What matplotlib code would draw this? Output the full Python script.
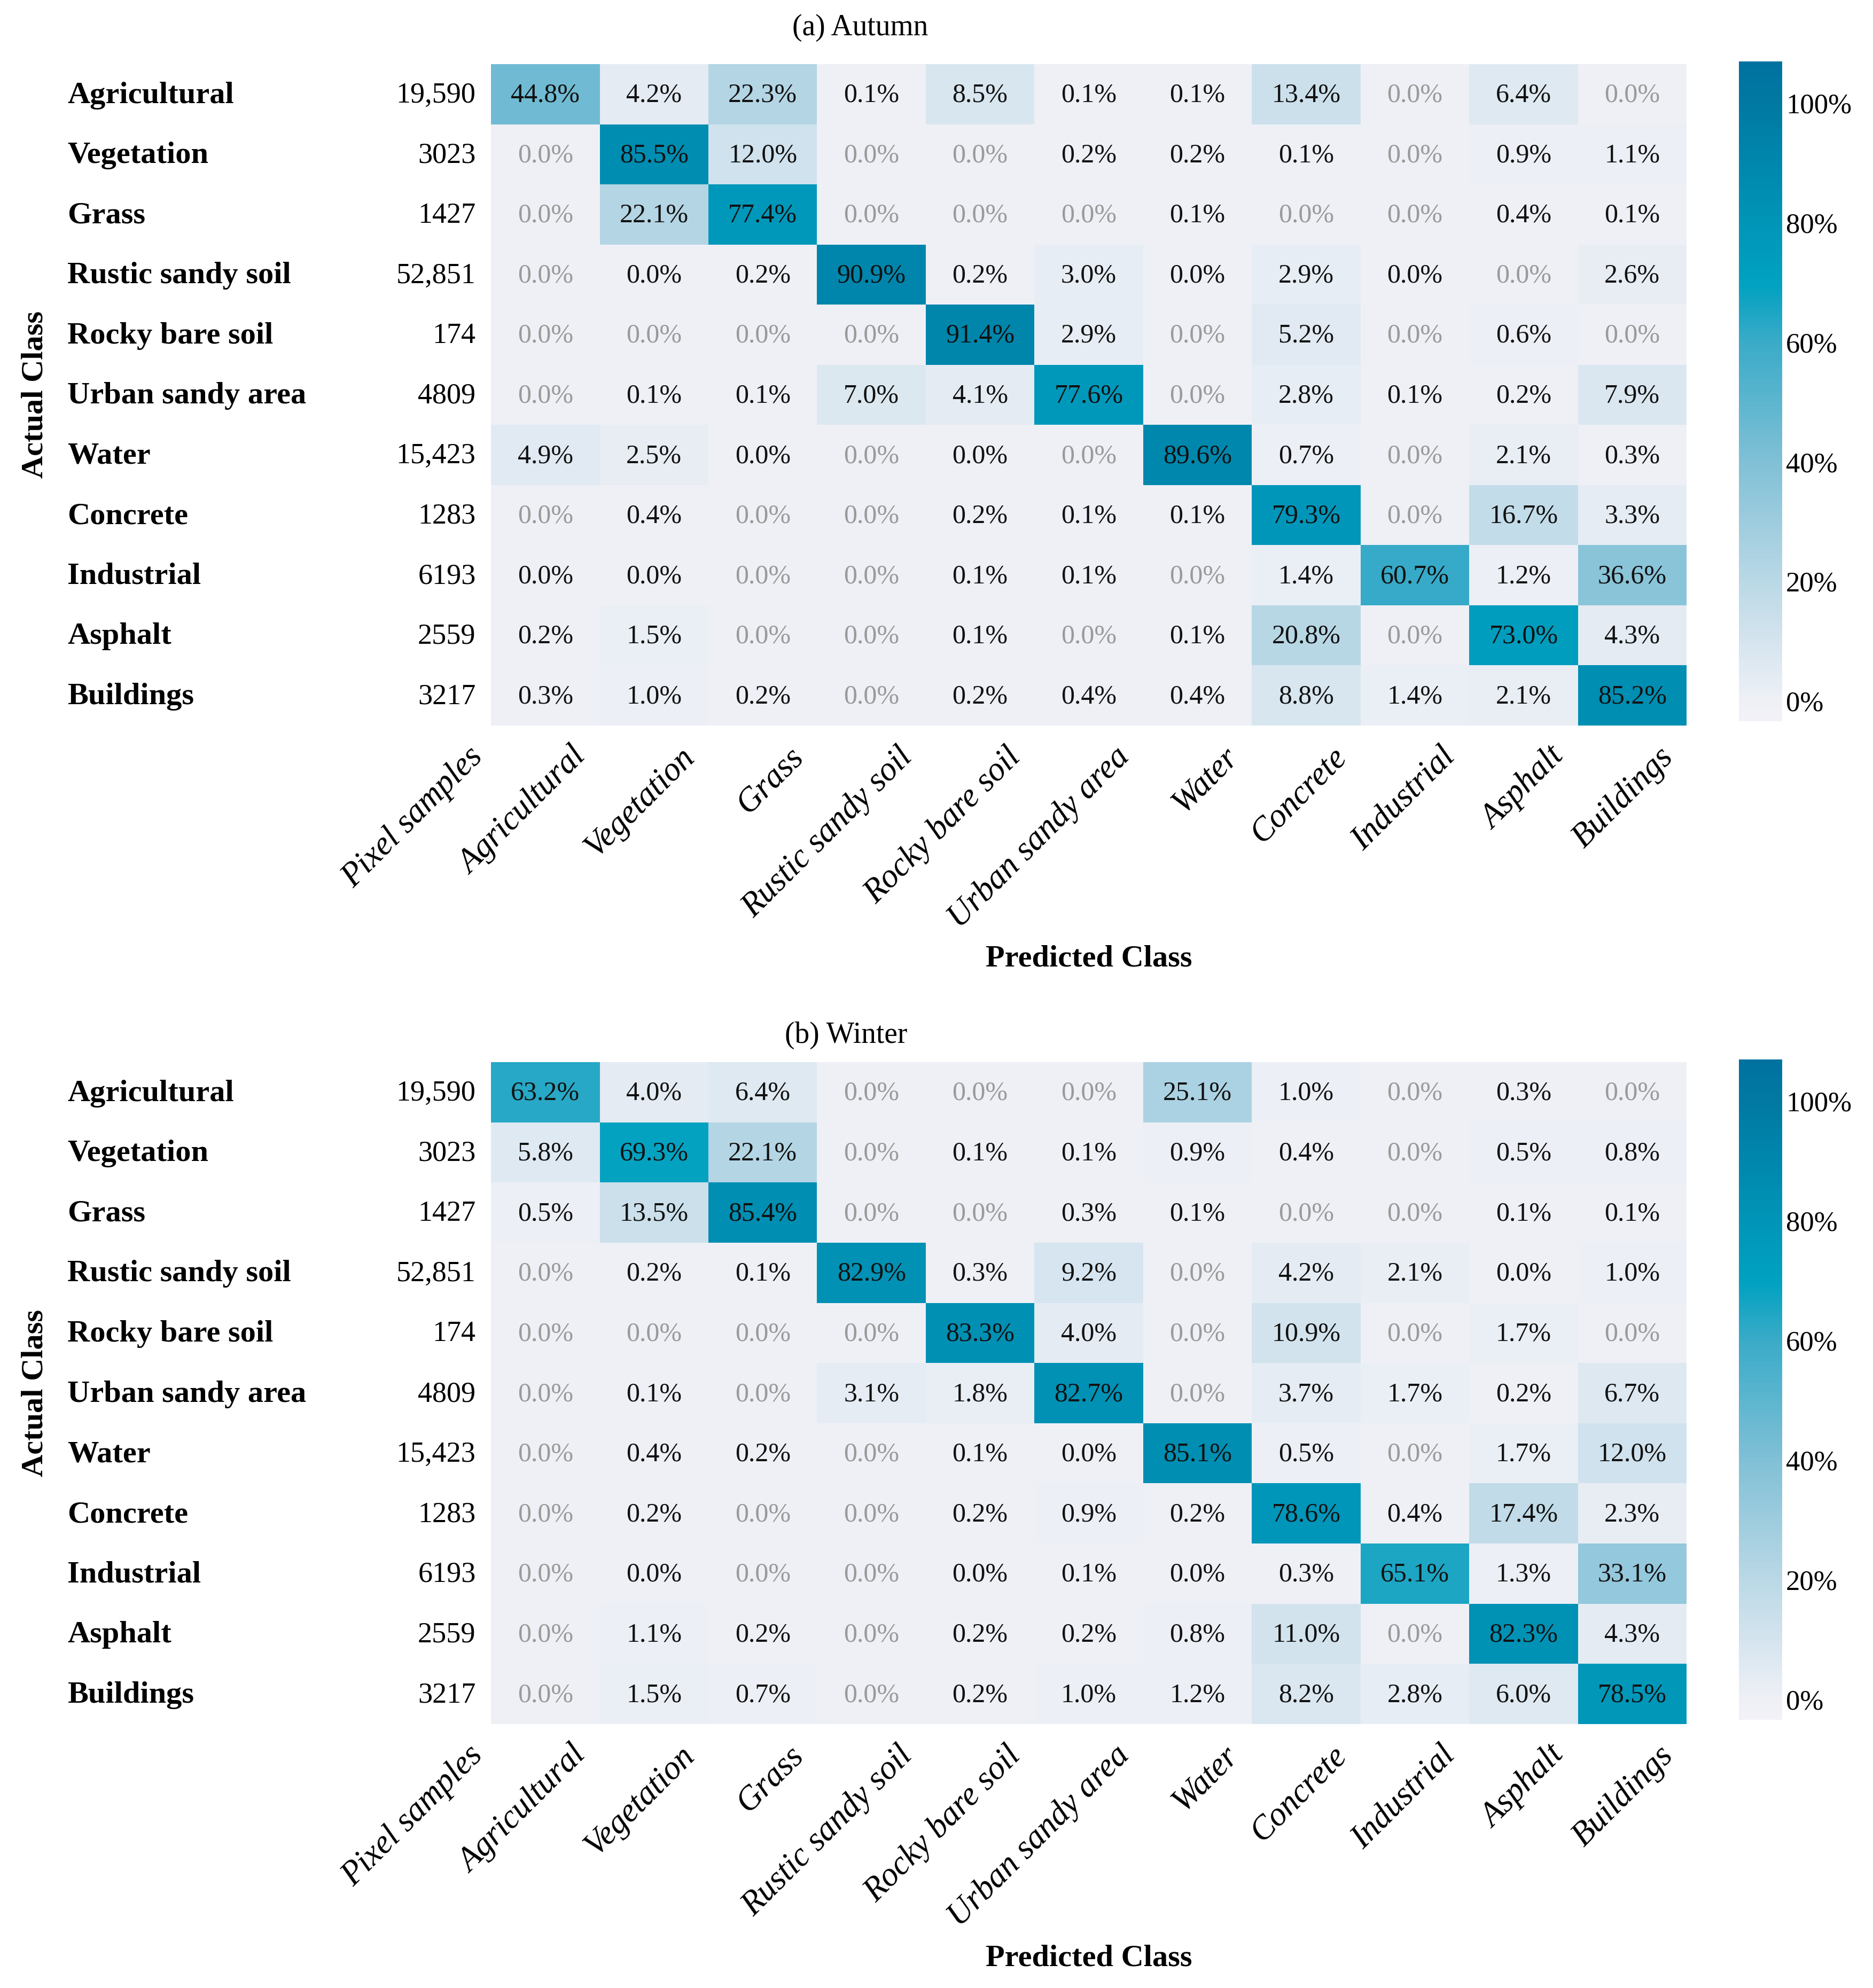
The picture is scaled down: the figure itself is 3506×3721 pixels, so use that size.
import numpy as np
import matplotlib
matplotlib.use('Agg')
import matplotlib.pyplot as plt
from matplotlib.colors import LinearSegmentedColormap, Normalize
from matplotlib import transforms

plt.rcParams['font.family'] = ['Liberation Serif', 'DejaVu Serif']

# classes (rows = actual, columns = predicted)
classes = ['Agricultural', 'Vegetation', 'Grass', 'Rustic sandy soil', 'Rocky bare soil',
           'Urban sandy area', 'Water', 'Concrete', 'Industrial', 'Asphalt', 'Buildings']
pixel_samples = [19590, 3023, 1427, 52851, 174, 4809, 15423, 1283, 6193, 2559, 3217]

# percentages; 0.01 means "rounds to 0.0% but not exactly zero" (printed in black)
autumn = [
    [44.8, 4.2, 22.3, 0.1, 8.5, 0.1, 0.1, 13.4, 0.0, 6.4, 0.0],
    [0.0, 85.5, 12.0, 0.0, 0.0, 0.2, 0.2, 0.1, 0.0, 0.9, 1.1],
    [0.0, 22.1, 77.4, 0.0, 0.0, 0.0, 0.1, 0.0, 0.0, 0.4, 0.1],
    [0.0, 0.01, 0.2, 90.9, 0.2, 3.0, 0.01, 2.9, 0.01, 0.0, 2.6],
    [0.0, 0.0, 0.0, 0.0, 91.4, 2.9, 0.0, 5.2, 0.0, 0.6, 0.0],
    [0.0, 0.1, 0.1, 7.0, 4.1, 77.6, 0.0, 2.8, 0.1, 0.2, 7.9],
    [4.9, 2.5, 0.01, 0.0, 0.01, 0.0, 89.6, 0.7, 0.0, 2.1, 0.3],
    [0.0, 0.4, 0.0, 0.0, 0.2, 0.1, 0.1, 79.3, 0.0, 16.7, 3.3],
    [0.01, 0.01, 0.0, 0.0, 0.1, 0.1, 0.0, 1.4, 60.7, 1.2, 36.6],
    [0.2, 1.5, 0.0, 0.0, 0.1, 0.0, 0.1, 20.8, 0.0, 73.0, 4.3],
    [0.3, 1.0, 0.2, 0.0, 0.2, 0.4, 0.4, 8.8, 1.4, 2.1, 85.2],
]
winter = [
    [63.2, 4.0, 6.4, 0.0, 0.0, 0.0, 25.1, 1.0, 0.0, 0.3, 0.0],
    [5.8, 69.3, 22.1, 0.0, 0.1, 0.1, 0.9, 0.4, 0.0, 0.5, 0.8],
    [0.5, 13.5, 85.4, 0.0, 0.0, 0.3, 0.1, 0.0, 0.0, 0.1, 0.1],
    [0.0, 0.2, 0.1, 82.9, 0.3, 9.2, 0.0, 4.2, 2.1, 0.01, 1.0],
    [0.0, 0.0, 0.0, 0.0, 83.3, 4.0, 0.0, 10.9, 0.0, 1.7, 0.0],
    [0.0, 0.1, 0.0, 3.1, 1.8, 82.7, 0.0, 3.7, 1.7, 0.2, 6.7],
    [0.0, 0.4, 0.2, 0.0, 0.1, 0.01, 85.1, 0.5, 0.0, 1.7, 12.0],
    [0.0, 0.2, 0.0, 0.0, 0.2, 0.9, 0.2, 78.6, 0.4, 17.4, 2.3],
    [0.0, 0.01, 0.0, 0.0, 0.01, 0.1, 0.01, 0.3, 65.1, 1.3, 33.1],
    [0.0, 1.1, 0.2, 0.0, 0.2, 0.2, 0.8, 11.0, 0.0, 82.3, 4.3],
    [0.0, 1.5, 0.7, 0.0, 0.2, 1.0, 1.2, 8.2, 2.8, 6.0, 78.5],
]
titles = ['(a) Autumn', '(b) Winter']
cbar_ticks = [0, 20, 40, 60, 80, 100]

# colour scale
vmin, vmax = -3.4, 107
norm = Normalize(vmin, vmax)
stops = [(-3.4, '#f3f1f8'), (0, '#eef0f6'), (20, '#bad8e6'), (40, '#80c0d6'),
         (60, '#3aabc8'), (70, '#00a1c1'), (80, '#0095b8'), (100, '#0079a2'), (107, '#0072a0')]
cmap = LinearSegmentedColormap.from_list('cm', [(float(norm(v)), c) for v, c in stops])

W, H = 3506, 3721
fig = plt.figure(figsize=(W / 100, H / 100), dpi=100)

def fx(px):
    return px / W

def fy(px):
    return 1 - px / H

panels = [(autumn, 120, 1358, 115, 1350, 1610, 52, 1794),
          (winter, 1988, 3227, 1983, 3219, 1584, 1938, 3665)]

xmin = -0.9
for k, (data, top, bot, ctop, cbot, tx, ty, ly) in enumerate(panels):
    data = np.array(data)
    ax = fig.add_axes([fx(736), fy(bot), fx(3157) - fx(736), fy(top) - fy(bot)])
    mesh = ax.pcolormesh(np.arange(12), np.arange(12), data, cmap=cmap, norm=norm)
    ax.set_xlim(xmin, 11)
    ax.set_ylim(11, 0)
    for s in ax.spines.values():
        s.set_visible(False)
    ax.set_yticks([])

    # cell values
    for i in range(11):
        for j in range(11):
            v = data[i, j]
            ax.text(j + 0.5, i + 0.52, f'{v:.1f}%', ha='center', va='center',
                    fontsize=36, color='#9a9a9a' if v == 0 else '#111111')

    # row labels and pixel samples
    tr = transforms.blended_transform_factory(fig.transFigure, ax.transData)
    for i, name in enumerate(classes):
        ax.text(fx(126), i + 0.52, name, transform=tr, ha='left', va='center',
                fontsize=42, fontweight='bold')
        n = pixel_samples[i]
        ax.text(-0.14, i + 0.52, f'{n:,}' if n >= 10000 else str(n),
                ha='right', va='center', fontsize=39)

    # x tick labels
    ax.set_xticks([xmin / 2] + [j + 0.5 for j in range(11)])
    ax.set_xticklabels(['Pixel samples'] + classes, rotation=45, ha='right', va='top',
                       rotation_mode='anchor', fontstyle='italic', fontsize=45)
    ax.tick_params(axis='x', length=0, pad=0)
    off = transforms.ScaledTranslation(0.47, -0.30, fig.dpi_scale_trans)
    for lab in ax.get_xticklabels():
        lab.set_transform(lab.get_transform() + off)

    trx = transforms.blended_transform_factory(ax.transData, fig.transFigure)
    ax.text(5.5, fy(ly), 'Predicted Class', transform=trx, ha='center', va='center',
            fontsize=42, fontweight='bold')
    fig.text(fx(66), (fy(top) + fy(bot)) / 2, 'Actual Class', rotation=90,
             ha='center', va='center', fontsize=42, fontweight='bold')
    fig.text(fx(tx), fy(ty), titles[k], ha='center', va='center', fontsize=40)

    cax = fig.add_axes([fx(3255), fy(cbot), fx(81), fy(ctop) - fy(cbot)])
    cb = fig.colorbar(mesh, cax=cax, ticks=cbar_ticks)
    cb.ax.set_yticklabels([f'{t}%' for t in cbar_ticks])
    cb.outline.set_visible(False)
    cb.ax.tick_params(length=0, labelsize=38, pad=5)

fig.savefig('out.png', dpi=100, facecolor='white')
